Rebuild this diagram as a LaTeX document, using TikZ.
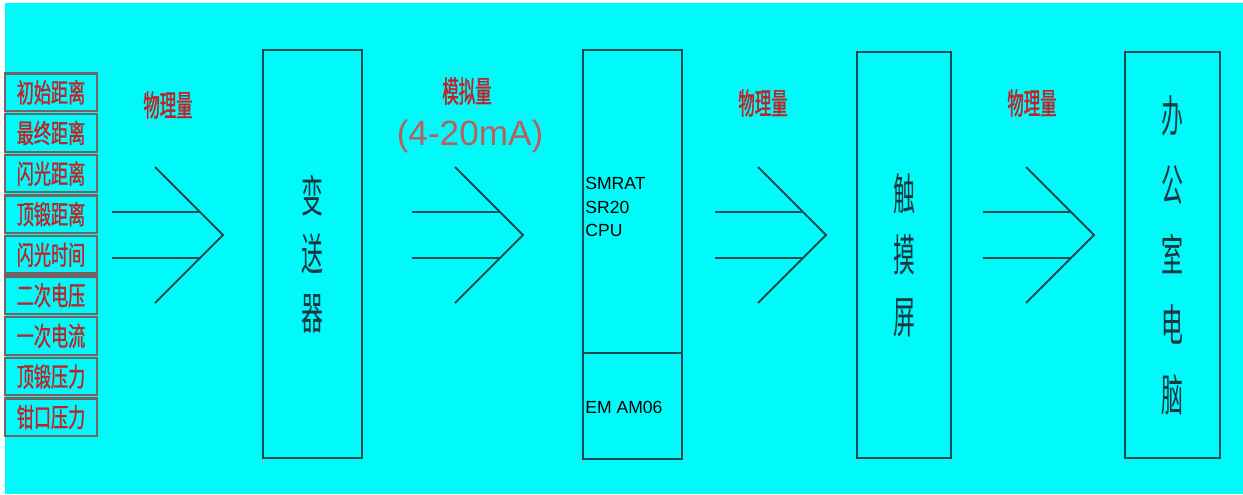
\documentclass[tikz,border=0pt]{standalone}
\usepackage{fontspec}
\setmainfont{Liberation Sans}
\newfontfamily\cjkbox[FakeStretch=0.5]{Noto Sans CJK SC}
\newfontfamily\cjklbl[FakeStretch=0.55,FakeBold=1.2]{Noto Sans CJK SC}
\newfontfamily\cjkcell[FakeStretch=0.65,FakeBold=1]{Noto Sans CJK SC}
\usepackage{tikz}
\usetikzlibrary{positioning}
\definecolor{bgc}{RGB}{0,250,250}
\definecolor{edge}{RGB}{20,75,85}
\definecolor{boxtxt}{RGB}{25,55,65}
\definecolor{lblred}{RGB}{190,35,40}
\definecolor{cellbd}{RGB}{115,100,100}
\definecolor{marow}{RGB}{185,95,95}
\tikzset{
  box/.style ={draw=edge,line width=1.1pt,outer sep=0pt,minimum width=1.98cm,minimum height=8.16cm,inner sep=0pt,text=boxtxt,align=center},
  cell/.style={draw=cellbd,line width=1.3pt,minimum width=1.84cm,minimum height=0.75cm,inner sep=0pt,font=\cjkcell\fontsize{15}{15}\selectfont,text=lblred},
  lbl/.style ={font=\cjklbl\fontsize{17}{17}\selectfont,text=lblred,inner sep=0pt},
  io/.style  ={font=\fontsize{10}{13.5}\selectfont,align=left,inner sep=0pt,anchor=west,text=black},
  ar/.style  ={draw=edge,line width=1.1pt},
}
\begin{document}
\begin{tikzpicture}[x=0.02cm,y=-0.02cm]
  \useasboundingbox (0,0) rectangle (1243,494);
  \fill[white] (0,0) rectangle (1243,494);
  \fill[bgc] (5,3) rectangle (1243,494);
  % input quantities
  \foreach \t [count=\i] in {初始距离,最终距离,闪光距离,顶锻距离,闪光时间,二次电压,一次电流,顶锻压力,钳口压力}
    \node[cell] (c\i) at (51,{92.3+(\i-1)*40.6}) {\t};
  % blocks
  \node[box,font=\cjkbox\fontsize{25}{33.5}\selectfont] (tx) at (312.5,254) {变\\送\\器};
  \node[box,minimum height=6.06cm] (cpu) at (632.5,201.5) {};
  \node[box,minimum height=2.12cm,below=0pt of cpu] (em) {};
  \node[io] (cputxt) at (585,207) {SMRAT\\SR20\\CPU};
  \node[io] (emtxt) at (585,407) {EM AM06};
  \node[box,minimum width=1.88cm,minimum height=8.12cm,font=\cjkbox\fontsize{25}{35}\selectfont] (hmi) at (904,255) {触\\摸\\屏};
  \node[box,minimum width=1.9cm,minimum height=8.12cm,font=\cjkbox\fontsize{25}{39.7}\selectfont] (pc) at (1172.5,255) {办\\公\\室\\电\\脑};
  % signal labels
  \node[lbl] (q1) at (168,105) {物理量};
  \node[lbl] (q2) at (467,91) {模拟量};
  \node[font=\fontsize{20}{20}\selectfont,text=marow,inner sep=0pt] (ma) at (470,136) {(4-20mA)};
  \node[lbl] (q3) at (763,103) {物理量};
  \node[lbl] (q4) at (1032,103) {物理量};
  % wide arrows
  \foreach \x in {112,412,715,983}{
    \draw[ar] (\x,212) -- ++(88,0);
    \draw[ar] (\x,258) -- ++(88,0);
    \draw[ar] (\x+43,167) -- (\x+111,235) -- (\x+43,303);
  }
\end{tikzpicture}
\end{document}
